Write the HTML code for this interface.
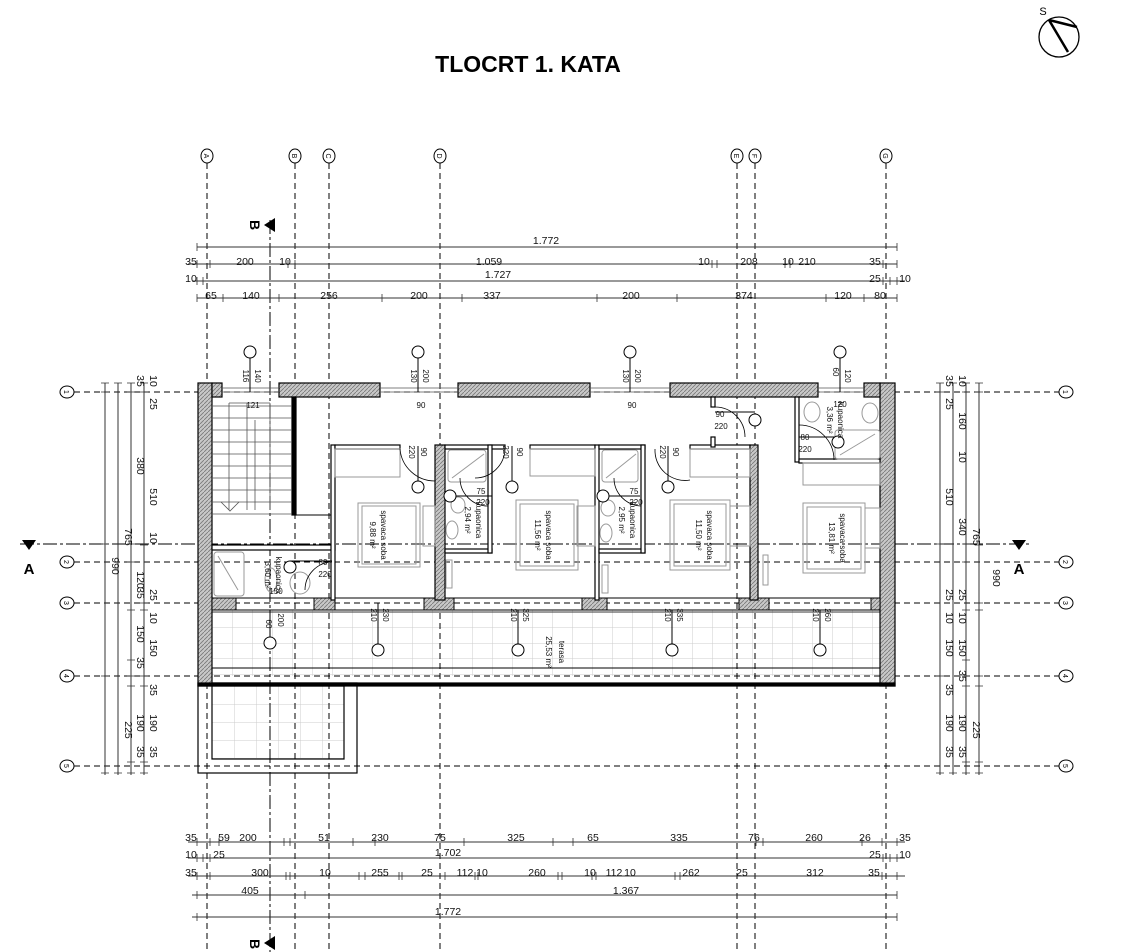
<!DOCTYPE html>
<html><head><meta charset="utf-8"><style>
html,body{margin:0;padding:0;background:#fff;}
svg{display:block;font-family:"Liberation Sans",Arial,sans-serif;}
</style></head><body>
<svg width="1122" height="952" viewBox="0 0 1122 952" xmlns="http://www.w3.org/2000/svg">
<defs>
<pattern id="h" width="4" height="4" patternUnits="userSpaceOnUse"><rect width="4" height="4" fill="#c8c8c8"/><path d="M0 4L4 0" stroke="#777" stroke-width="0.8"/></pattern>
<pattern id="tile" x="212" y="612" width="20" height="15.5" patternUnits="userSpaceOnUse"><rect width="20" height="15.5" fill="#fff"/><path d="M0 0H20M0 0V15.5" stroke="#ccc" stroke-width="1"/></pattern>
<pattern id="tile2" x="212" y="686" width="22" height="18" patternUnits="userSpaceOnUse"><rect width="22" height="18" fill="#fff"/><path d="M0 0H22M0 0V18" stroke="#ccc" stroke-width="1"/></pattern>
</defs>

<text x="528" y="72" text-anchor="middle" font-size="23" font-weight="bold" font-family="Liberation Sans">TLOCRT 1. KATA</text>

<!-- compass -->
<circle cx="1059" cy="37" r="20" fill="none" stroke="#000" stroke-width="1.3"/>
<path d="M1049 20L1068 52M1049 20L1077 27" stroke="#000" stroke-width="2.5"/>
<text x="1043" y="15" font-size="11" text-anchor="middle">S</text>

<!-- terrace tiles -->
<rect x="212" y="610" width="668" height="66" fill="url(#tile)"/>
<rect x="212" y="686" width="132" height="73" fill="url(#tile2)"/>
<rect x="198" y="683" width="159" height="90" fill="none" stroke="#000" stroke-width="1.2"/>
<rect x="212" y="686" width="132" height="73" fill="none" stroke="#000" stroke-width="1.2"/>
<line x1="212" y1="668" x2="880" y2="668" stroke="#000" stroke-width="1"/>
<line x1="212" y1="612" x2="880" y2="612" stroke="#000" stroke-width="0.8"/>

<!-- grid lines vertical -->
<g stroke="#000" stroke-width="1" stroke-dasharray="6,4" fill="none">
<line x1="207" y1="163" x2="207" y2="952"/>
<line x1="295" y1="163" x2="295" y2="952"/>
<line x1="329" y1="163" x2="329" y2="952"/>
<line x1="440" y1="163" x2="440" y2="952"/>
<line x1="737" y1="163" x2="737" y2="952"/>
<line x1="755" y1="163" x2="755" y2="952"/>
<line x1="886" y1="163" x2="886" y2="952"/>
<line x1="74" y1="392" x2="1059" y2="392"/>
<line x1="74" y1="562" x2="1059" y2="562"/>
<line x1="74" y1="603" x2="1059" y2="603"/>
<line x1="74" y1="676" x2="1059" y2="676"/>
<line x1="74" y1="766" x2="1059" y2="766"/>
</g>
<g stroke="#000" stroke-width="1" stroke-dasharray="14,3,3,3" fill="none">
<line x1="20" y1="544" x2="1030" y2="544"/>
</g>
<line x1="270" y1="220" x2="270" y2="952" stroke="#000" stroke-width="1" stroke-dasharray="14,3,3,3"/>
<!-- section markers -->
<path d="M275 218L264 225L275 232Z" fill="#000"/><text x="250" y="225" font-size="14" font-weight="bold" transform="rotate(90 250 225)" text-anchor="middle">B</text>
<path d="M275 936L264 943L275 950Z" fill="#000"/><text x="250" y="944" font-size="14" font-weight="bold" transform="rotate(90 250 944)" text-anchor="middle">B</text>
<path d="M22 540L36 540L29 550Z" fill="#000"/><text x="29" y="574" font-size="15" font-weight="bold" text-anchor="middle">A</text>
<path d="M1012 540L1026 540L1019 550Z" fill="#000"/><text x="1019" y="574" font-size="15" font-weight="bold" text-anchor="middle">A</text>

<!-- grid bubbles -->
<g fill="#fff" stroke="#000" stroke-width="1">
<ellipse cx="207" cy="156" rx="6" ry="7"/><ellipse cx="295" cy="156" rx="6" ry="7"/><ellipse cx="329" cy="156" rx="6" ry="7"/><ellipse cx="440" cy="156" rx="6" ry="7"/><ellipse cx="737" cy="156" rx="6" ry="7"/><ellipse cx="755" cy="156" rx="6" ry="7"/><ellipse cx="886" cy="156" rx="6" ry="7"/>
<ellipse cx="67" cy="392" rx="7" ry="6"/><ellipse cx="67" cy="562" rx="7" ry="6"/><ellipse cx="67" cy="603" rx="7" ry="6"/><ellipse cx="67" cy="676" rx="7" ry="6"/><ellipse cx="67" cy="766" rx="7" ry="6"/>
<ellipse cx="1066" cy="392" rx="7" ry="6"/><ellipse cx="1066" cy="562" rx="7" ry="6"/><ellipse cx="1066" cy="603" rx="7" ry="6"/><ellipse cx="1066" cy="676" rx="7" ry="6"/><ellipse cx="1066" cy="766" rx="7" ry="6"/>
</g>
<g font-size="7" text-anchor="middle">
<text x="207" y="159" transform="rotate(90 207 156)">A</text><text x="295" y="159" transform="rotate(90 295 156)">B</text><text x="329" y="159" transform="rotate(90 329 156)">C</text><text x="440" y="159" transform="rotate(90 440 156)">D</text><text x="737" y="159" transform="rotate(90 737 156)">E</text><text x="755" y="159" transform="rotate(90 755 156)">F</text><text x="886" y="159" transform="rotate(90 886 156)">G</text>
<text x="67" y="395" transform="rotate(90 67 392)">1</text><text x="67" y="565" transform="rotate(90 67 562)">2</text><text x="67" y="606" transform="rotate(90 67 603)">3</text><text x="67" y="679" transform="rotate(90 67 676)">4</text><text x="67" y="769" transform="rotate(90 67 766)">5</text>
<text x="1066" y="395" transform="rotate(90 1066 392)">1</text><text x="1066" y="565" transform="rotate(90 1066 562)">2</text><text x="1066" y="606" transform="rotate(90 1066 603)">3</text><text x="1066" y="679" transform="rotate(90 1066 676)">4</text><text x="1066" y="769" transform="rotate(90 1066 766)">5</text>
</g>

<!-- top dimension lines -->
<g stroke="#333" stroke-width="1">
<line x1="197" y1="247" x2="897" y2="247"/>
<line x1="188" y1="264" x2="897" y2="264"/>
<line x1="192" y1="281" x2="905" y2="281"/>
<line x1="197" y1="298" x2="897" y2="298"/>
<line x1="188" y1="842" x2="905" y2="842"/>
<line x1="188" y1="858" x2="905" y2="858"/>
<line x1="188" y1="876" x2="905" y2="876"/>
<line x1="192" y1="895" x2="897" y2="895"/>
<line x1="192" y1="917" x2="897" y2="917"/>
<line x1="105" y1="383" x2="105" y2="775"/><line x1="118" y1="383" x2="118" y2="775"/><line x1="131" y1="383" x2="131" y2="775"/><line x1="144" y1="383" x2="144" y2="775"/>
<line x1="940" y1="383" x2="940" y2="775"/><line x1="953" y1="383" x2="953" y2="775"/><line x1="966" y1="383" x2="966" y2="775"/><line x1="979" y1="383" x2="979" y2="775"/>
</g>
<g stroke="#333" stroke-width="0.8">
<path d="M197 243v8M897 243v8M197 260v8M210 260v8M288 260v8M295 260v8M712 260v8M717 260v8M785 260v8M790 260v8M883 260v8M897 260v8M197 277v8M203 277v8M883 277v8M890 277v8M897 277v8M197 294v8M223 294v8M279 294v8M382 294v8M462 294v8M597 294v8M677 294v8M826 294v8M864 294v8M897 294v8"/>
<path d="M197 838v8M210 838v8M219 838v8M284 838v8M290 838v8M353 838v8M375 838v8M464 838v8M553 838v8M573 838v8M756 838v8M763 838v8M862 838v8M882 838v8M897 838v8M197 854v8M203 854v8M210 854v8M883 854v8M890 854v8M897 854v8M197 872v8M210 872v8M286 872v8M290 872v8M359 872v8M365 872v8M399 872v8M402 872v8M445 872v8M475 872v8M478 872v8M558 872v8M562 872v8M592 872v8M596 872v8M675 872v8M680 872v8M882 872v8M897 872v8M197 891v8M305 891v8M897 891v8M197 913v8M897 913v8"/>
<path d="M101 383h8M101 392h8M101 544h8M101 676h8M101 773h8M114 383h8M114 773h8M127 383h8M127 392h8M127 544h8M127 562h8M127 610h8M127 660h8M127 676h8M127 686h8M127 762h8M127 773h8M140 383h8M140 392h8M140 545h8M140 603h8M140 610h8M140 676h8M140 686h8M140 762h8M140 773h8"/>
<path d="M936 383h8M936 392h8M936 544h8M936 676h8M936 773h8M949 383h8M949 773h8M962 383h8M962 392h8M962 544h8M962 562h8M962 610h8M962 660h8M962 676h8M962 686h8M962 762h8M962 773h8M975 383h8M975 392h8M975 545h8M975 603h8M975 610h8M975 676h8M975 686h8M975 762h8M975 773h8"/>
</g>
<g font-size="10.5" fill="#111" text-anchor="middle">
<text x="546" y="244">1.772</text>
<text x="191" y="265">35</text><text x="245" y="265">200</text><text x="285" y="265">10</text><text x="489" y="265">1.059</text><text x="704" y="265">10</text><text x="749" y="265">208</text><text x="788" y="265">10</text><text x="807" y="265">210</text><text x="875" y="265">35</text>
<text x="191" y="282">10</text><text x="498" y="278">1.727</text><text x="875" y="282">25</text><text x="905" y="282">10</text>
<text x="211" y="299">65</text><text x="251" y="299">140</text><text x="329" y="299">256</text><text x="419" y="299">200</text><text x="492" y="299">337</text><text x="631" y="299">200</text><text x="744" y="299">374</text><text x="843" y="299">120</text><text x="880" y="299">80</text>
<text x="191" y="841">35</text><text x="224" y="841">59</text><text x="248" y="841">200</text><text x="324" y="841">51</text><text x="380" y="841">230</text><text x="440" y="841">75</text><text x="516" y="841">325</text><text x="593" y="841">65</text><text x="679" y="841">335</text><text x="754" y="841">76</text><text x="814" y="841">260</text><text x="865" y="841">26</text><text x="905" y="841">35</text>
<text x="191" y="858">10</text><text x="219" y="858">25</text><text x="448" y="856">1.702</text><text x="875" y="858">25</text><text x="905" y="858">10</text>
<text x="191" y="876">35</text><text x="260" y="876">300</text><text x="325" y="876">10</text><text x="380" y="876">255</text><text x="427" y="876">25</text><text x="465" y="876">112</text><text x="482" y="876">10</text><text x="537" y="876">260</text><text x="590" y="876">10</text><text x="614" y="876">112</text><text x="630" y="876">10</text><text x="691" y="876">262</text><text x="742" y="876">25</text><text x="815" y="876">312</text><text x="874" y="876">35</text>
<text x="250" y="894">405</text><text x="626" y="894">1.367</text>
<text x="448" y="915">1.772</text>
</g>
<g font-size="10.5" fill="#111" text-anchor="middle">
<text transform="translate(112,566) rotate(90)">990</text><text transform="translate(125,537) rotate(90)">765</text><text transform="translate(125,730) rotate(90)">225</text>
<text transform="translate(137,381) rotate(90)">35</text><text transform="translate(137,466) rotate(90)">380</text><text transform="translate(137,580) rotate(90)">120</text><text transform="translate(137,593) rotate(90)">35</text><text transform="translate(137,634) rotate(90)">150</text><text transform="translate(137,663) rotate(90)">35</text><text transform="translate(137,723) rotate(90)">190</text><text transform="translate(137,752) rotate(90)">35</text>
<text transform="translate(150,381) rotate(90)">10</text><text transform="translate(150,404) rotate(90)">25</text><text transform="translate(150,497) rotate(90)">510</text><text transform="translate(150,538) rotate(90)">10</text><text transform="translate(150,595) rotate(90)">25</text><text transform="translate(150,618) rotate(90)">10</text><text transform="translate(150,648) rotate(90)">150</text><text transform="translate(150,690) rotate(90)">35</text><text transform="translate(150,723) rotate(90)">190</text><text transform="translate(150,752) rotate(90)">35</text>
<text transform="translate(993,578) rotate(90)">990</text><text transform="translate(973,537) rotate(90)">765</text><text transform="translate(973,730) rotate(90)">225</text>
<text transform="translate(946,381) rotate(90)">35</text><text transform="translate(946,404) rotate(90)">25</text><text transform="translate(946,497) rotate(90)">510</text><text transform="translate(946,595) rotate(90)">25</text><text transform="translate(946,618) rotate(90)">10</text><text transform="translate(946,648) rotate(90)">150</text><text transform="translate(946,690) rotate(90)">35</text><text transform="translate(946,723) rotate(90)">190</text><text transform="translate(946,752) rotate(90)">35</text>
<text transform="translate(959,381) rotate(90)">10</text><text transform="translate(959,421) rotate(90)">160</text><text transform="translate(959,457) rotate(90)">10</text><text transform="translate(959,527) rotate(90)">340</text><text transform="translate(959,595) rotate(90)">25</text><text transform="translate(959,618) rotate(90)">10</text><text transform="translate(959,648) rotate(90)">150</text><text transform="translate(959,676) rotate(90)">35</text><text transform="translate(959,723) rotate(90)">190</text><text transform="translate(959,752) rotate(90)">35</text>
</g>

<!-- outer walls -->
<g stroke="#000" stroke-width="1.2">
<rect x="198" y="383" width="14" height="303" fill="url(#h)"/>
<rect x="880" y="383" width="15" height="303" fill="url(#h)"/>
<rect x="198" y="683" width="697" height="3" fill="#000"/>
<rect x="212" y="383" width="10" height="14" fill="url(#h)"/>
<rect x="279" y="383" width="101" height="14" fill="url(#h)"/>
<rect x="458" y="383" width="132" height="14" fill="url(#h)"/>
<rect x="670" y="383" width="148" height="14" fill="url(#h)"/>
<rect x="864" y="383" width="16" height="14" fill="url(#h)"/>
</g>
<g stroke="#555" stroke-width="0.8" fill="none">
<path d="M222 388H279M222 392H279M380 388H458M380 392H458M590 388H670M590 392H670M818 388H864M818 392H864"/>
</g>
<!-- terrace-side wall line -->
<g stroke="#000" stroke-width="1" fill="none">
<path d="M212 598H880M212 610H880"/>
</g>
<g stroke="#000" stroke-width="1">
<rect x="212" y="598" width="24" height="12" fill="url(#h)"/>
<rect x="314" y="598" width="21" height="12" fill="url(#h)"/>
<rect x="424" y="598" width="30" height="12" fill="url(#h)"/>
<rect x="582" y="598" width="25" height="12" fill="url(#h)"/>
<rect x="739" y="598" width="30" height="12" fill="url(#h)"/>
<rect x="871" y="598" width="9" height="12" fill="url(#h)"/>
</g>

<!-- interior walls -->
<g stroke="#000" stroke-width="1.2">
<rect x="292" y="397" width="4" height="118" fill="#000"/>
<rect x="212" y="545" width="123" height="5" fill="#fff"/>
<rect x="331" y="445" width="4" height="155" fill="#fff"/>
<rect x="335" y="445" width="65" height="4" fill="#fff"/>
<rect x="435" y="445" width="10" height="155" fill="url(#h)"/>
<rect x="445" y="445" width="60" height="4" fill="#fff"/>
<rect x="445" y="549" width="47" height="4" fill="#fff"/>
<rect x="488" y="445" width="4" height="108" fill="#fff"/>
<rect x="530" y="445" width="65" height="4" fill="#fff"/>
<rect x="595" y="445" width="4" height="155" fill="#fff"/>
<rect x="599" y="445" width="46" height="4" fill="#fff"/>
<rect x="599" y="549" width="46" height="4" fill="#fff"/>
<rect x="641" y="445" width="4" height="108" fill="#fff"/>
<rect x="690" y="445" width="60" height="4" fill="#fff"/>
<rect x="750" y="445" width="8" height="155" fill="url(#h)"/>
<rect x="711" y="397" width="4" height="10" fill="#fff"/>
<rect x="711" y="437" width="4" height="10" fill="#fff"/>
<rect x="795" y="397" width="4" height="65" fill="#fff"/>
<rect x="799" y="459" width="81" height="4" fill="#fff"/>
</g>

<!-- stairs -->
<g stroke="#555" stroke-width="0.8" fill="none">
<path d="M212 406H292M212 418H292M212 430H292M212 442H292M212 454H292M212 466H292M212 478H292M212 490H292M212 502H292M212 514H292"/>
<path d="M229 403V510M247 403V510M255 420V510M270 403V510M229 403H270"/>
<path d="M221 502L230 511L239 502"/>
</g>
<line x1="296" y1="515" x2="331" y2="515" stroke="#000"/>

<!-- furniture gray -->
<g stroke="#999" stroke-width="1" fill="none">
<rect x="358" y="503" width="62" height="64"/><rect x="362" y="506" width="54" height="58"/>
<rect x="516" y="500" width="62" height="70"/><rect x="520" y="504" width="54" height="62"/>
<rect x="670" y="500" width="60" height="70"/><rect x="674" y="504" width="52" height="62"/>
<rect x="803" y="503" width="62" height="70"/><rect x="807" y="507" width="54" height="62"/>
<rect x="335" y="449" width="65" height="28"/><rect x="530" y="449" width="65" height="27"/><rect x="690" y="449" width="60" height="28"/><rect x="803" y="463" width="77" height="22"/>
<rect x="423" y="506" width="12" height="40"/><rect x="577" y="506" width="18" height="40"/><rect x="730" y="506" width="20" height="40"/><rect x="865" y="508" width="15" height="40"/>
<rect x="214" y="552" width="30" height="44" rx="3"/><path d="M218 556L238 590"/>
<rect x="448" y="450" width="38" height="32" rx="3"/><path d="M452 478L484 454"/>
<rect x="602" y="450" width="36" height="32" rx="3"/><path d="M606 478L636 454"/>
<rect x="835" y="430" width="45" height="29" rx="3"/><path d="M840 455L875 434"/>
<ellipse cx="300" cy="583" rx="10" ry="11"/><ellipse cx="458" cy="505" rx="7" ry="8"/><ellipse cx="608" cy="508" rx="7" ry="8"/><ellipse cx="812" cy="412" rx="8" ry="10"/><ellipse cx="870" cy="413" rx="8" ry="10"/>
<ellipse cx="271" cy="580" rx="6" ry="12"/><ellipse cx="452" cy="530" rx="6" ry="9"/><ellipse cx="606" cy="533" rx="6" ry="9"/>
<rect x="446" y="560" width="6" height="28"/><rect x="602" y="565" width="6" height="28"/><rect x="763" y="555" width="5" height="30"/>
</g>

<!-- doors -->
<g stroke="#000" stroke-width="0.8" fill="none">
<path d="M400 449A35 35 0 0 0 435 481"/><path d="M505 449A30 30 0 0 1 475 478"/>
<path d="M655 449A30 30 0 0 0 690 480"/>
<path d="M332 562A28 28 0 0 0 305 590"/>
<path d="M715 407A30 30 0 0 1 745 437"/>
<path d="M799 425A35 35 0 0 1 834 460"/>
<path d="M460 478A28 28 0 0 0 488 506"/><path d="M614 478A28 28 0 0 0 641 506"/>
</g>

<!-- label circles and stems -->
<g stroke="#000" stroke-width="1" fill="#fff">
<path d="M250 358V392M418 358V392M630 358V392M840 358V392M378 610V644M518 610V644M672 610V644M820 610V644M270 610V637M418 446V481M512 446V481M668 446V481M290 561H332M450 496H492M603 496H640M755 412H715M838 437H799M378 603V610"/>
<circle cx="250" cy="352" r="6"/><circle cx="418" cy="352" r="6"/><circle cx="630" cy="352" r="6"/><circle cx="840" cy="352" r="6"/>
<circle cx="378" cy="650" r="6"/><circle cx="518" cy="650" r="6"/><circle cx="672" cy="650" r="6"/><circle cx="820" cy="650" r="6"/><circle cx="270" cy="643" r="6"/>
<circle cx="418" cy="487" r="6"/><circle cx="512" cy="487" r="6"/><circle cx="668" cy="487" r="6"/>
<circle cx="290" cy="567" r="6"/><circle cx="450" cy="496" r="6"/><circle cx="603" cy="496" r="6"/><circle cx="755" cy="420" r="6"/><circle cx="838" cy="442" r="6"/>
</g>

<!-- small labels -->
<g font-size="8" fill="#111" text-anchor="middle">
<text transform="translate(243,376) rotate(90)">116</text><text transform="translate(255,376) rotate(90)">140</text>
<text transform="translate(411,376) rotate(90)">130</text><text transform="translate(423,376) rotate(90)">200</text>
<text transform="translate(623,376) rotate(90)">130</text><text transform="translate(635,376) rotate(90)">200</text>
<text transform="translate(833,372) rotate(90)">60</text><text transform="translate(845,376) rotate(90)">120</text>
<text x="253" y="408">121</text><text x="421" y="408">90</text><text x="632" y="408">90</text>
<text transform="translate(409,452) rotate(90)">220</text><text transform="translate(421,452) rotate(90)">90</text>
<text transform="translate(503,452) rotate(90)">220</text><text transform="translate(517,452) rotate(90)">90</text>
<text transform="translate(660,452) rotate(90)">220</text><text transform="translate(673,452) rotate(90)">90</text>
<text x="481" y="494">75</text><text x="483" y="505">220</text>
<text x="634" y="494">75</text><text x="636" y="505">220</text>
<text x="323" y="565">80</text><text x="325" y="577">220</text><text x="276" y="594">150</text>
<text x="720" y="417">90</text><text x="721" y="429">220</text>
<text x="805" y="440">80</text><text x="805" y="452">220</text><text x="840" y="407">120</text>
<text transform="translate(371,615) rotate(90)">210</text><text transform="translate(383,615) rotate(90)">230</text>
<text transform="translate(511,615) rotate(90)">210</text><text transform="translate(523,615) rotate(90)">325</text>
<text transform="translate(665,615) rotate(90)">210</text><text transform="translate(677,615) rotate(90)">335</text>
<text transform="translate(813,615) rotate(90)">210</text><text transform="translate(825,615) rotate(90)">260</text>
<text transform="translate(266,624) rotate(90)">60</text><text transform="translate(278,620) rotate(90)">200</text>
<text transform="translate(381,535) rotate(90)">spavaca soba</text><text transform="translate(370,535) rotate(90)">9,88 m²</text>
<text transform="translate(546,535) rotate(90)">spavaca soba</text><text transform="translate(535,535) rotate(90)">11,56 m²</text>
<text transform="translate(707,535) rotate(90)">spavaca soba</text><text transform="translate(696,535) rotate(90)">11,50 m²</text>
<text transform="translate(840,538) rotate(90)">spavaca soba</text><text transform="translate(829,538) rotate(90)">13,81 m²</text>
<text transform="translate(476,520) rotate(90)">kupaonica</text><text transform="translate(465,520) rotate(90)">2,94 m²</text>
<text transform="translate(630,520) rotate(90)">kupaonica</text><text transform="translate(619,520) rotate(90)">2,95 m²</text>
<text transform="translate(276,575) rotate(90)">kupaonica</text><text transform="translate(265,575) rotate(90)">3,60 m²</text>
<text transform="translate(838,420) rotate(90)">kupaonica</text><text transform="translate(827,420) rotate(90)">3,36 m²</text>
<text transform="translate(559,652) rotate(90)">terasa</text><text transform="translate(546,652) rotate(90)">25,53 m²</text>
</g>
</svg>
</body></html>
